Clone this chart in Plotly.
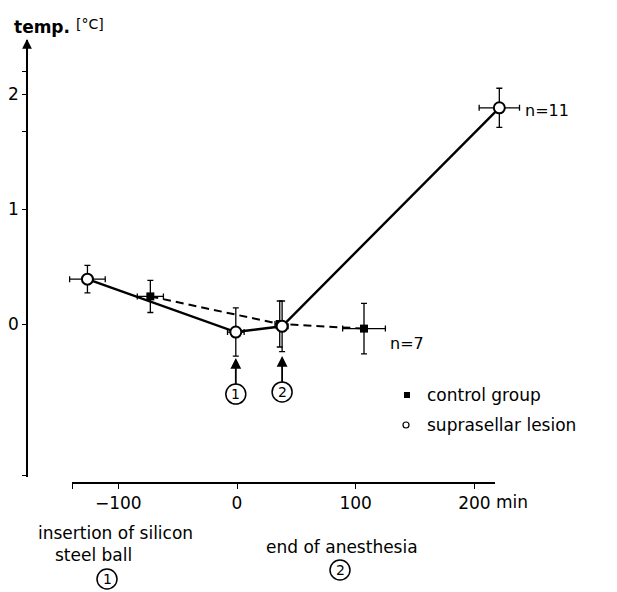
import plotly.graph_objects as go

# ---- data (minutes, °C) ----
control_x = [-73, 36, 107]
control_y = [0.24, 0.00, -0.04]
control_ex = [11, 4, 18]
control_ey = [0.14, 0.20, 0.22]

lesion_x = [-126, -1, 38, 221]
lesion_y = [0.39, -0.07, -0.02, 1.88]
lesion_ex = [15, 7, 5, 17]
lesion_ey = [0.12, 0.21, 0.22, 0.17]

x_tickvals = [-139, -100, 0, 100, 200]
x_ticktext = ["", "\u2212100", "0", "100", "200"]
y_tickvals = [-1.32, 0, 1, 1.67, 2, 2.2]
y_ticktext = ["", "0", "1", "", "2", ""]

FONT = "DejaVu Sans"
OFF = 8  # page body margin
W, H = 617 - OFF, 592 - OFF


def px(x):
    return (x - OFF) / W


def py(y):
    return 1 - (y - OFF) / H


fig = go.Figure()

fig.add_trace(go.Scatter(
    x=control_x, y=control_y, mode="lines+markers",
    line=dict(color="black", width=2, dash="8px,5px"),
    marker=dict(symbol="square", size=8, color="black"),
    error_x=dict(type="data", array=control_ex, color="black", thickness=1.3, width=3),
    error_y=dict(type="data", array=control_ey, color="black", thickness=1.3, width=3),
    showlegend=False, xaxis="x", yaxis="y",
))
fig.add_trace(go.Scatter(
    x=lesion_x, y=lesion_y, mode="lines+markers",
    line=dict(color="black", width=2.4),
    marker=dict(symbol="circle", size=11, color="white", line=dict(color="black", width=2)),
    error_x=dict(type="data", array=lesion_ex, color="black", thickness=1.3, width=3),
    error_y=dict(type="data", array=lesion_ey, color="black", thickness=1.3, width=3),
    showlegend=False, xaxis="x", yaxis="y",
))
# helper trace so the drawn time axis is rendered
fig.add_trace(go.Scatter(x=[], y=[], xaxis="x2", yaxis="y", showlegend=False, hoverinfo="skip"))

x0_px, x_scale = 237, 1.187
fig.update_layout(
    width=W, height=H, autosize=False,
    margin=dict(l=0, r=0, t=0, b=0),
    paper_bgcolor="white", plot_bgcolor="rgba(0,0,0,0)",
    font=dict(family=FONT, size=17, color="black"),
    showlegend=False,
    xaxis=dict(domain=[0, 1], range=[(OFF - x0_px) / x_scale, (617 - x0_px) / x_scale],
               visible=False, anchor="y"),
    xaxis2=dict(domain=[px(72), px(495)], range=[(72 - x0_px) / x_scale, (495 - x0_px) / x_scale],
                anchor="free", position=py(483),
                showline=True, linecolor="black", linewidth=1.5,
                ticks="outside", ticklen=5, tickwidth=1.3, tickcolor="black",
                tickvals=x_tickvals, ticktext=x_ticktext,
                tickfont=dict(family=FONT, size=17, color="black"),
                showgrid=False, zeroline=False),
    yaxis=dict(domain=[py(477), py(40)], range=[(324 - 477) / 115, (324 - 40) / 115],
               anchor="free", position=px(27),
               showline=True, linecolor="black", linewidth=1.5,
               ticks="outside", ticklen=4, tickwidth=1.3, tickcolor="black",
               tickvals=y_tickvals, ticktext=y_ticktext,
               tickfont=dict(family=FONT, size=17, color="black"),
               showgrid=False, zeroline=False),
)

ann = []
shapes = []


def txt(x, y, s, size=17, xanchor="left"):
    ann.append(dict(x=px(x), y=py(y), xref="paper", yref="paper", text=s, showarrow=False,
                    xanchor=xanchor, yanchor="middle", font=dict(family=FONT, size=size, color="black")))


def circled(x, y, digit):
    txt(x, y, digit, 14, "center")
    shapes.append(dict(type="circle", xref="paper", yref="paper",
                       x0=px(x - 10), x1=px(x + 10), y0=py(y + 10), y1=py(y - 10),
                       line=dict(color="black", width=1.5)))


txt(12, 27, "<b>temp.</b>", 17)
txt(74, 24, "[°C]", 14)
txt(523, 110, "n=11", 16)
txt(388, 343, "n=7", 16)
txt(425, 395, "control group", 17)
txt(425, 425, "suprasellar lesion", 17)
txt(494, 502, "min", 17)
txt(115, 533, "insertion of silicon", 17, "center")
txt(93, 555, "steel ball", 17, "center")
circled(107, 579, "1")
txt(342, 547, "end of anesthesia", 17, "center")
circled(340, 570, "2")

# arrows marking events 1 and 2 (circled labels under the arrows)
for xv, yv, lab in [(lesion_x[1], -0.296, "1"), (lesion_x[2], -0.278, "2")]:
    ann.append(dict(x=xv, y=yv, xref="x", yref="y", text=lab, showarrow=True,
                    ax=0, ay=36, arrowhead=2, arrowsize=1.2, arrowwidth=1.8, arrowcolor="black",
                    font=dict(family=FONT, size=14, color="black")))
    shapes.append(dict(type="circle", xref="x", yref="y",
                       xsizemode="pixel", ysizemode="pixel", xanchor=xv, yanchor=yv,
                       x0=-10, x1=10, y0=-46, y1=-26,
                       line=dict(color="black", width=1.5)))

# y-axis arrow head
ann.append(dict(x=px(27), y=py(39), xref="paper", yref="paper", text="", showarrow=True,
                ax=0, ay=18, arrowhead=2, arrowsize=1.3, arrowwidth=1.5, arrowcolor="black"))

# legend symbols
shapes += [
    dict(type="rect", xref="paper", yref="paper", x0=px(404), x1=px(410), y0=py(398), y1=py(392),
         fillcolor="black", line=dict(width=0)),
    dict(type="circle", xref="paper", yref="paper", x0=px(403), x1=px(409), y0=py(428), y1=py(422),
         fillcolor="white", line=dict(color="black", width=1.2)),
]
fig.update_layout(annotations=ann, shapes=shapes)

fig.write_html("out.html")
